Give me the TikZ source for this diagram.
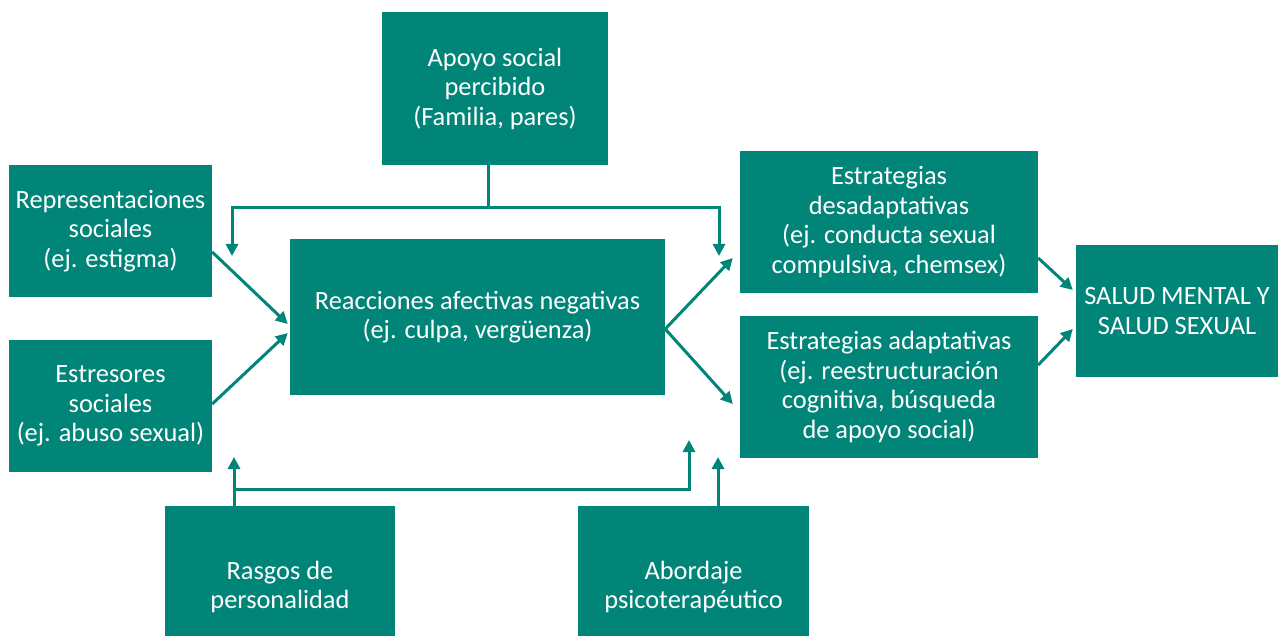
\documentclass[tikz,border=0pt]{standalone}
\usepackage{fontspec}
\setmainfont{Carlito}
\usetikzlibrary{arrows.meta,calc}
\definecolor{teal1}{RGB}{0,133,120}
\tikzset{
  box/.style={fill=teal1, draw=none, text=white, align=center, inner sep=0pt,
    font=\fontsize{26.4}{29.5}\selectfont},
  conn/.style={draw=teal1, line width=3pt},
  arr/.style={conn, -{Triangle[width=12pt,length=12pt]}},
}
\begin{document}
\begin{tikzpicture}[x=1pt,y=-1pt]
\clip (0,0) rectangle (1283,636);
\fill[white] (0,0) rectangle (1283,636);
% boxes
\node[box, minimum width=226, minimum height=153] (apoyo) at (495,88.5) {Apoyo social\\percibido\\(Familia, pares)};
\node[box, minimum width=203, minimum height=132] (rep) at (110.5,231) {Representaciones\\sociales\\(ej. estigma)};
\node[box, minimum width=203, minimum height=132] (est) at (110.5,406) {Estresores\\sociales\\(ej. abuso sexual)};
\node[box, minimum width=375, minimum height=156] (reac) at (477.5,317) {Reacciones afectivas negativas\\(ej. culpa, vergüenza)};
\node[box, minimum width=298, minimum height=142] (des) at (889,222) {Estrategias\\desadaptativas\\(ej. conducta sexual\\compulsiva, chemsex)};
\node[box, minimum width=298, minimum height=142] (ada) at (889,387) {Estrategias adaptativas\\(ej. reestructuración\\cognitiva, búsqueda\\de apoyo social)};
\node[box, minimum width=202, minimum height=132] (salud) at (1177,311) {SALUD MENTAL Y\\SALUD SEXUAL};
\node[box, minimum width=230, minimum height=162] (rasgos) at (280,587) {Rasgos de\\personalidad};
\node[box, minimum width=231, minimum height=162] (abord) at (693.5,587) {Abordaje\\psicoterapéutico};
% coordinates
\coordinate (aL) at (232,256);
\coordinate (aR) at (719,256);
\coordinate (j1) at (488,208);
\coordinate (bL) at (234,457);
\coordinate (bM) at (689,440);
\coordinate (bR) at (718,457);
\coordinate (j2) at (234,489);
% top connector
\draw[conn] (apoyo.south -| j1) -- (j1);
\draw[arr] (j1) -| (aL);
\draw[arr] (j1) -| (aR);
% left diagonals
\draw[arr] ([yshift=-21pt]rep.east) -- ([yshift=-7pt,xshift=-2pt]reac.west);
\draw[arr] ([yshift=2pt]est.east) -- ([yshift=-16pt,xshift=-2pt]reac.west);
% right diagonals
\draw[arr] ([yshift=-12pt]reac.east) -- ([yshift=-36pt,xshift=-7pt]des.west);
\draw[arr] ([yshift=-12pt]reac.east) -- ([yshift=-17pt,xshift=-7pt]ada.west);
\draw[arr] ([yshift=-36pt]des.east) -- ([yshift=21pt,xshift=-3pt]salud.west);
\draw[arr] ([yshift=22pt]ada.east) -- ([yshift=-18pt,xshift=-3pt]salud.west);
% bottom connectors
\draw[arr] (rasgos.north -| bL) -- (bL);
\draw[arr] (j2) -| (bM);
\draw[arr] (abord.north -| bR) -- (bR);
\end{tikzpicture}
\end{document}
